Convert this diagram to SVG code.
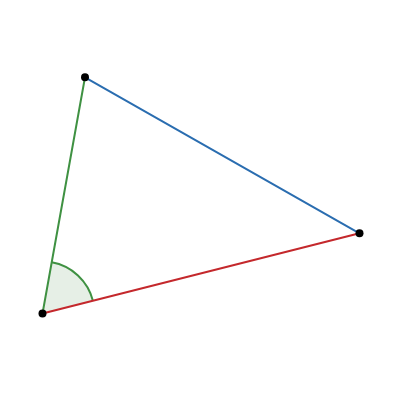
<svg xmlns="http://www.w3.org/2000/svg" width="400" height="400" viewBox="0 0 400 400">
<style>
.edge{fill:none;stroke-width:2;stroke-linecap:round}
.pt{fill:#000}
</style>
<rect width="400" height="400" fill="#fff"/>
<g id="angle">
<path d="M42.5,313.5 L92.9,300.7 A52,52 0 0 0 51.7,262.3 Z" fill="#e6efe6" stroke="none"/>
<path d="M92.9,300.7 A52,52 0 0 0 51.7,262.3" fill="none" stroke="#3f9142" stroke-width="2"/>
</g>
<g id="connectors">
<line class="edge" x1="42.5" y1="313.5" x2="85" y2="77.3" stroke="#3f9142"/>
<line class="edge" x1="85" y1="77.3" x2="359.5" y2="233.3" stroke="#2a6db0"/>
<line class="edge" x1="42.5" y1="313.5" x2="359.5" y2="233.3" stroke="#c4282c"/>
</g>
<g id="A"><circle class="pt" cx="42.5" cy="313.5" r="4"/></g>
<g id="B"><circle class="pt" cx="85" cy="77.3" r="4"/></g>
<g id="C"><circle class="pt" cx="359.5" cy="233.3" r="4"/></g>
</svg>
